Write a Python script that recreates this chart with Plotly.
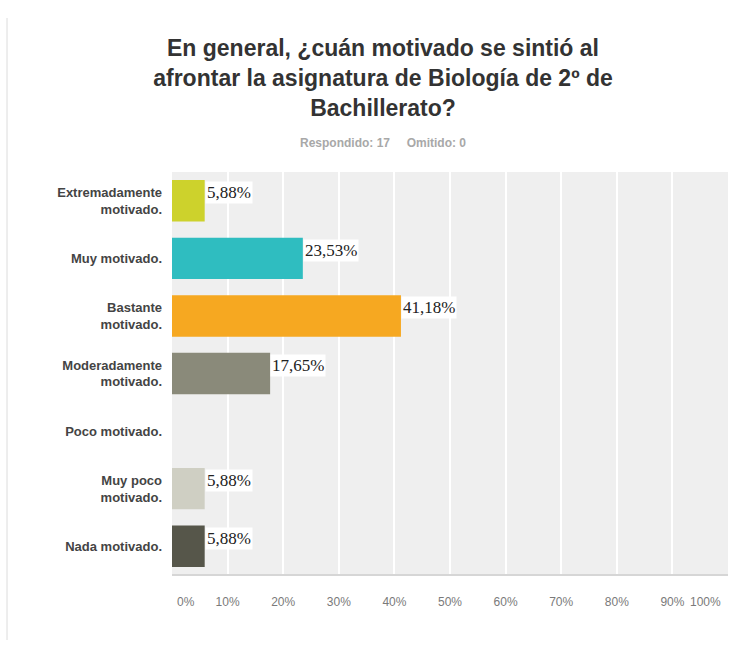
import plotly.graph_objects as go

# Survey answers (percent of respondents)
categories = [
    "Extremadamente<br>motivado.",
    "Muy motivado.",
    "Bastante<br>motivado.",
    "Moderadamente<br>motivado.",
    "Poco motivado.",
    "Muy poco<br>motivado.",
    "Nada motivado.",
]
values = [5.88, 23.53, 41.18, 17.65, 0.0, 5.88, 5.88]
bar_colors = ["#cdd22c", "#2fbdc0", "#f6a821", "#8a8a7a", "#d9d9cc", "#cfcfc3", "#56564a"]
tick_vals = [0, 10, 20, 30, 40, 50, 60, 70, 80, 90, 100]
tick_text = ["0%", "10%", "20%", "30%", "40%", "50%", "60%", "70%", "80%", "90%", "100%"]

title_text = ("En general, ¿cuán motivado se sintió al<br>"
              "afrontar la asignatura de Biología de 2º de<br>Bachillerato?")
answered, skipped = 17, 0

W, H = 742, 645
ML, MR, MT, MB = 172, 14, 172, 70
pw = W - ML - MR
ph = H - MT - MB

AXIS_FONT = dict(family="Arial, Liberation Sans, sans-serif", size=12, color="#7a7a7a")

fig = go.Figure()
fig.add_trace(go.Bar(
    x=values, y=categories, orientation="h",
    marker=dict(color=bar_colors, line=dict(width=0)),
    width=0.72, hoverinfo="skip",
))

# value labels at the end of each non-empty bar
for cat, v in zip(categories, values):
    if v <= 0:
        continue
    fig.add_annotation(
        x=v, y=cat, xref="x", yref="y",
        text=f"{v:.2f}".replace(".", ",") + "%",
        showarrow=False, xanchor="left", yanchor="middle", yshift=8,
        bgcolor="white", borderpad=1,
        font=dict(family="Liberation Serif, DejaVu Serif, serif", size=17, color="#222"),
    )

# the outermost tick labels sit inside the plot edges
for val, txt in zip(tick_vals, tick_text):
    if val in (tick_vals[0], tick_vals[-1]):
        fig.add_annotation(
            x=val, y=0, xref="x", yref="paper",
            text=txt, showarrow=False,
            xanchor="left" if val == tick_vals[0] else "right",
            xshift=3 if val == tick_vals[0] else -5,
            yanchor="middle", yshift=-27, font=AXIS_FONT,
        )

fig.add_annotation(
    x=(383 - ML) / pw, y=1 + (MT - 143) / ph, xref="paper", yref="paper",
    text=f"<b>Respondido: {answered}&nbsp;&nbsp;&nbsp;&nbsp;&nbsp;Omitido: {skipped}</b>",
    showarrow=False, xanchor="center", yanchor="middle",
    font=dict(family="Arial, Liberation Sans, sans-serif", size=12, color="#a8a8a8"),
)

# thin frame line on the left edge of the page
fig.add_shape(type="line", xref="paper", yref="paper",
              x0=(7 - ML) / pw, x1=(7 - ML) / pw,
              y0=-(640 - (H - MB)) / ph, y1=1 + (MT - 18) / ph,
              line=dict(color="#dcdcdc", width=1))
# baseline under the plot area
fig.add_shape(type="line", xref="paper", yref="paper", x0=0, x1=1, y0=0, y1=0,
              line=dict(color="#d6d6d6", width=2))

inner_vals = tick_vals[1:-1]
inner_text = tick_text[1:-1]

fig.update_layout(
    width=W, height=H,
    margin=dict(l=ML, r=MR, t=MT, b=MB),
    paper_bgcolor="white", plot_bgcolor="#efefef",
    showlegend=False,
    title=dict(
        text=f"<b>{title_text}</b>", x=383 / W, xanchor="center",
        y=1 - 56 / H, yanchor="top", yref="container",
        font=dict(family="Arial, Liberation Sans, sans-serif", size=23, color="#333"),
    ),
    xaxis=dict(
        range=[0, 100], tickmode="array", tickvals=inner_vals, ticktext=inner_text,
        showgrid=True, gridcolor="white", gridwidth=2, zeroline=False,
        ticks="", ticklen=0, showline=False, fixedrange=True,
        ticklabelstandoff=18, tickfont=AXIS_FONT,
    ),
    yaxis=dict(
        autorange="reversed", showgrid=False, zeroline=False, ticks="",
        ticklabelstandoff=9, tickmode="array", tickvals=categories,
        ticktext=[f"<b>{c}</b>" for c in categories],
        tickfont=dict(family="Arial, Liberation Sans, sans-serif", size=13, color="#444"),
    ),
)

fig.write_html("out.html")
